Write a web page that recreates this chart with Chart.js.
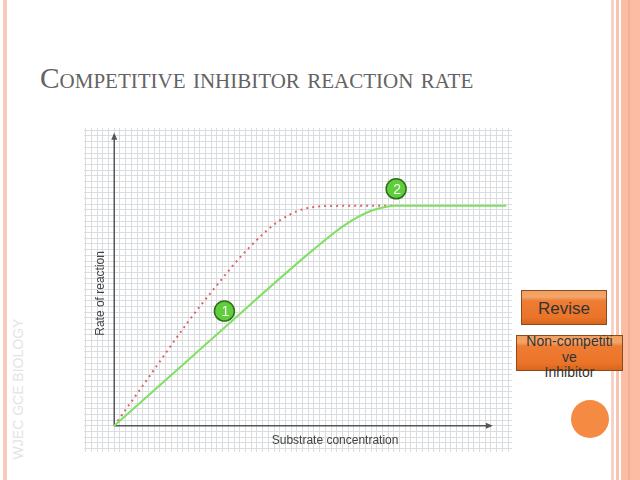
<!DOCTYPE html>
<html lang="en">
<head>
    <meta charset="UTF-8">
    <title>Competitive inhibitor reaction rate</title>
    <script src="https://cdn.jsdelivr.net/npm/chart.js"></script>
    <style>
        body { margin: 0; width: 640px; height: 480px; position: relative; overflow: hidden; background: #fff; font-family: "Liberation Sans", Arial, sans-serif; }
        .stripe { position: absolute; top: 0; height: 480px; }
        #title { position: absolute; left: 40px; top: 62px; font-family: "Liberation Serif", serif; font-variant: small-caps; font-size: 29.4px; color: #636363; white-space: nowrap; }
        #watermark { position: absolute; left: 18px; top: 389px; transform: translate(-50%, -50%) rotate(-90deg); font-size: 14px; color: #e4e4e4; white-space: nowrap; }
        .btn { position: absolute; box-sizing: border-box; border: 1px solid #8c4a1e; background: linear-gradient(#f0a060 0%, #f4a56a 18%, #ee7c34 30%, #ea7428 80%, #d8651c 100%); color: #333; text-align: center; }
        #revise { left: 521px; top: 290px; width: 86px; height: 35px; font-size: 17px; line-height: 35px; }
        #noncomp { left: 516px; top: 335px; width: 107px; height: 36px; font-size: 14px; line-height: 15.5px; }
        #noncomp span { position: absolute; left: 0; right: 0; top: -2px; }
        #dot { position: absolute; left: 571px; top: 400px; width: 38px; height: 38px; border-radius: 50%; background: #f58a42; }
        #chartBox { position: absolute; left: 84px; top: 128px; width: 428px; height: 324px; }
    </style>
</head>
<body>
    <div class="stripe" style="left:3px;width:4px;background:#f9c9b9;"></div>
    <div class="stripe" style="left:611px;width:3px;background:#f6d3c8;"></div>
    <div class="stripe" style="left:616px;width:3px;background:#f8c4b2;"></div>
    <div class="stripe" style="left:621px;width:19px;background:#fbbca4;"></div>
    <div class="stripe" style="left:628px;width:2px;background:#f5ae92;"></div>

    <div id="title">Competitive inhibitor reaction rate</div>
    <div id="watermark">WJEC GCE BIOLOGY</div>

    <div id="chartBox"><canvas id="rateChart" width="428" height="324"></canvas></div>

    <div class="btn" id="revise">Revise</div>
    <div class="btn" id="noncomp"><span>Non-competiti<br>ve<br>Inhibitor</span></div>
    <div id="dot"></div>

    <script>
        // values in grid squares, origin at the axes corner
        const greenX = [0, 19.1, 34.9, 40.5, 44.9, 47.5, 49.2, 68.7];
        const greenY = [0, 17.1, 31.0, 35.4, 37.8, 38.5, 38.7, 38.7];
        const redX = [0, 5.8, 12.8, 17.3, 23.3, 29.1, 34.9, 39.6, 48.9];
        const redY = [0, 8.2, 18.1, 23.9, 31.0, 36.2, 38.5, 38.7, 38.7];
        const badgeX = [19.3, 49.4];
        const badgeY = [20.2, 41.7];
        const badgeText = ['1', '2'];
        const xAxisEnd = 66;
        const yAxisEnd = 51.2;
        const xLabel = 'Substrate concentration';
        const yLabel = 'Rate of reaction';

        const toXY = (xs, ys) => xs.map((x, i) => ({ x: x, y: ys[i] }));

        function gridTicks(axis) {
            const ticks = [];
            for (let v = Math.ceil(axis.min); v <= axis.max; v++) ticks.push({ value: v });
            axis.ticks = ticks;
        }

        function arrow(ctx, x1, y1, x2, y2) {
            const a = Math.atan2(y2 - y1, x2 - x1);
            ctx.beginPath();
            ctx.moveTo(x1, y1);
            ctx.lineTo(x2, y2);
            ctx.stroke();
            ctx.beginPath();
            ctx.moveTo(x2 + Math.cos(a) * 2, y2 + Math.sin(a) * 2);
            ctx.lineTo(x2 - Math.cos(a) * 5 - Math.sin(a) * 3, y2 - Math.sin(a) * 5 + Math.cos(a) * 3);
            ctx.lineTo(x2 - Math.cos(a) * 5 + Math.sin(a) * 3, y2 - Math.sin(a) * 5 - Math.cos(a) * 3);
            ctx.closePath();
            ctx.fill();
        }

        const axesPlugin = {
            id: 'axesPlugin',
            beforeDatasetsDraw(chart) {
                const ctx = chart.ctx;
                const sx = chart.scales.x, sy = chart.scales.y;
                const ox = sx.getPixelForValue(0), oy = sy.getPixelForValue(0);
                ctx.save();
                ctx.strokeStyle = '#555';
                ctx.fillStyle = '#555';
                ctx.lineWidth = 1.5;
                arrow(ctx, ox, oy, ox, sy.getPixelForValue(yAxisEnd));
                arrow(ctx, ox, oy, sx.getPixelForValue(xAxisEnd), oy);
                ctx.fillStyle = '#444';
                ctx.font = '12px "Liberation Sans", Arial, sans-serif';
                ctx.textAlign = 'center';
                ctx.textBaseline = 'middle';
                ctx.fillText(xLabel, sx.getPixelForValue(38.7), oy + 15);
                ctx.translate(ox - 14, sy.getPixelForValue(23.3));
                ctx.rotate(-Math.PI / 2);
                ctx.fillText(yLabel, 0, 0);
                ctx.restore();
            },
            afterDatasetsDraw(chart) {
                const ctx = chart.ctx;
                const meta = chart.getDatasetMeta(2);
                ctx.save();
                ctx.fillStyle = '#f4fff0';
                ctx.font = '14px "Liberation Sans", Arial, sans-serif';
                ctx.textAlign = 'center';
                ctx.textBaseline = 'middle';
                meta.data.forEach((pt, i) => ctx.fillText(badgeText[i], pt.x + 1, pt.y + 1));
                ctx.restore();
            }
        };

        new Chart(document.getElementById('rateChart'), {
            type: 'line',
            data: {
                datasets: [
                    {
                        label: 'Inhibitor',
                        data: toXY(greenX, greenY),
                        borderColor: '#7fe063',
                        borderWidth: 2,
                        cubicInterpolationMode: 'monotone',
                        pointRadius: 0
                    },
                    {
                        label: 'No inhibitor',
                        data: toXY(redX, redY),
                        borderColor: '#e06464',
                        borderWidth: 2,
                        borderDash: [2, 4],
                        cubicInterpolationMode: 'monotone',
                        pointRadius: 0
                    },
                    {
                        type: 'scatter',
                        label: 'Points',
                        data: toXY(badgeX, badgeY),
                        backgroundColor: '#5fcd3c',
                        borderColor: '#2f6f1c',
                        borderWidth: 1.5,
                        pointRadius: 10
                    }
                ]
            },
            options: {
                responsive: false,
                animation: false,
                layout: { padding: 0, autoPadding: false },
                plugins: { legend: { display: false }, tooltip: { enabled: false } },
                scales: {
                    x: {
                        type: 'linear',
                        min: -5.3,
                        max: 69.7,
                        afterBuildTicks: gridTicks,
                        ticks: { display: false },
                        border: { display: false },
                        grid: { color: '#dadde0', lineWidth: 1, drawTicks: false }
                    },
                    y: {
                        type: 'linear',
                        min: -4.6,
                        max: 52.4,
                        afterBuildTicks: gridTicks,
                        ticks: { display: false },
                        border: { display: false },
                        grid: { color: '#dadde0', lineWidth: 1, drawTicks: false }
                    }
                }
            },
            plugins: [axesPlugin]
        });
    </script>
</body>
</html>
